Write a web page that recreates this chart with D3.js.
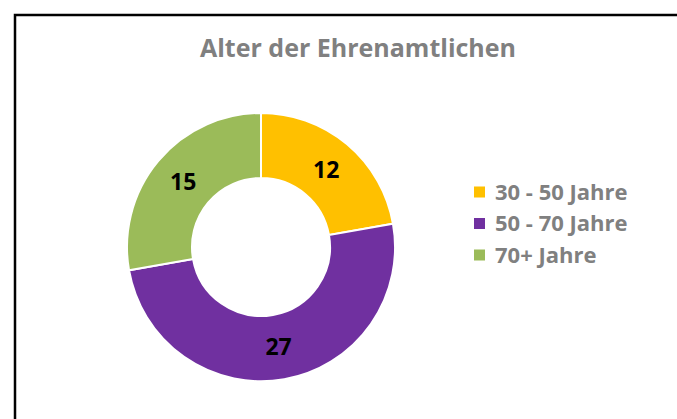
<!DOCTYPE html>
<html>
<head>
<meta charset="utf-8">
<script src="https://cdn.jsdelivr.net/npm/d3@7"></script>
<style>
body { margin: 0; background: #fff; overflow: hidden; }
svg { display: block; }
text { font-family: "Open Sans", sans-serif; font-weight: bold; }
</style>
</head>
<body>
<div id="chart"></div>
<script>
// data
var categories = ["30 - 50 Jahre", "50 - 70 Jahre", "70+ Jahre"];
var counts = [12, 27, 15];
var colors = ["#FFC000", "#7030A0", "#9BBB59"];
var title = "Alter der Ehrenamtlichen";

var width = 677, height = 419;
var cx = 261, cy = 247, rOuter = 134, rInner = 69;

var svg = d3.select("#chart").append("svg")
	.attr("width", width)
	.attr("height", height);

// chart frame: only the top and left edges fall inside the crop
svg.append("path")
	.attr("d", "M15," + height + "V15H" + width)
	.attr("fill", "none")
	.attr("stroke", "#000")
	.attr("stroke-width", 2.5);

svg.append("text")
	.attr("x", 358).attr("y", 57)
	.attr("text-anchor", "middle")
	.attr("fill", "#808080")
	.attr("font-size", 25)
	.text(title);

var pie = d3.pie().sort(null).value(function(d) { return d; });
var arc = d3.arc().innerRadius(rInner).outerRadius(rOuter);
var labelArc = d3.arc().innerRadius((rInner + rOuter) / 2).outerRadius((rInner + rOuter) / 2);

var g = svg.append("g").attr("transform", "translate(" + cx + "," + cy + ")");

var slices = pie(counts);

g.selectAll(".slice").data(slices).enter()
	.append("path")
	.attr("class", "slice")
	.attr("d", arc)
	.attr("fill", function(d, i) { return colors[i]; })
	.attr("stroke", "#fff")
	.attr("stroke-width", 2);

g.selectAll(".lbl").data(slices).enter()
	.append("text")
	.attr("class", "lbl")
	.attr("transform", function(d) { return "translate(" + labelArc.centroid(d) + ")"; })
	.attr("dy", "0.36em")
	.attr("text-anchor", "middle")
	.attr("fill", "#000")
	.attr("font-size", 23)
	.text(function(d) { return d.data; });

// legend
var legendY = d3.scalePoint().domain(categories).range([192, 255]);

var leg = svg.selectAll(".leg").data(categories).enter()
	.append("g")
	.attr("class", "leg")
	.attr("transform", function(d) { return "translate(474," + legendY(d) + ")"; });

leg.append("rect")
	.attr("x", 0).attr("y", -5.5)
	.attr("width", 11).attr("height", 11)
	.attr("fill", function(d, i) { return colors[i]; });

leg.append("text")
	.attr("x", 21).attr("dy", "0.36em")
	.attr("fill", "#808080")
	.attr("font-size", 22)
	.text(function(d) { return d; });
</script>
</body>
</html>
